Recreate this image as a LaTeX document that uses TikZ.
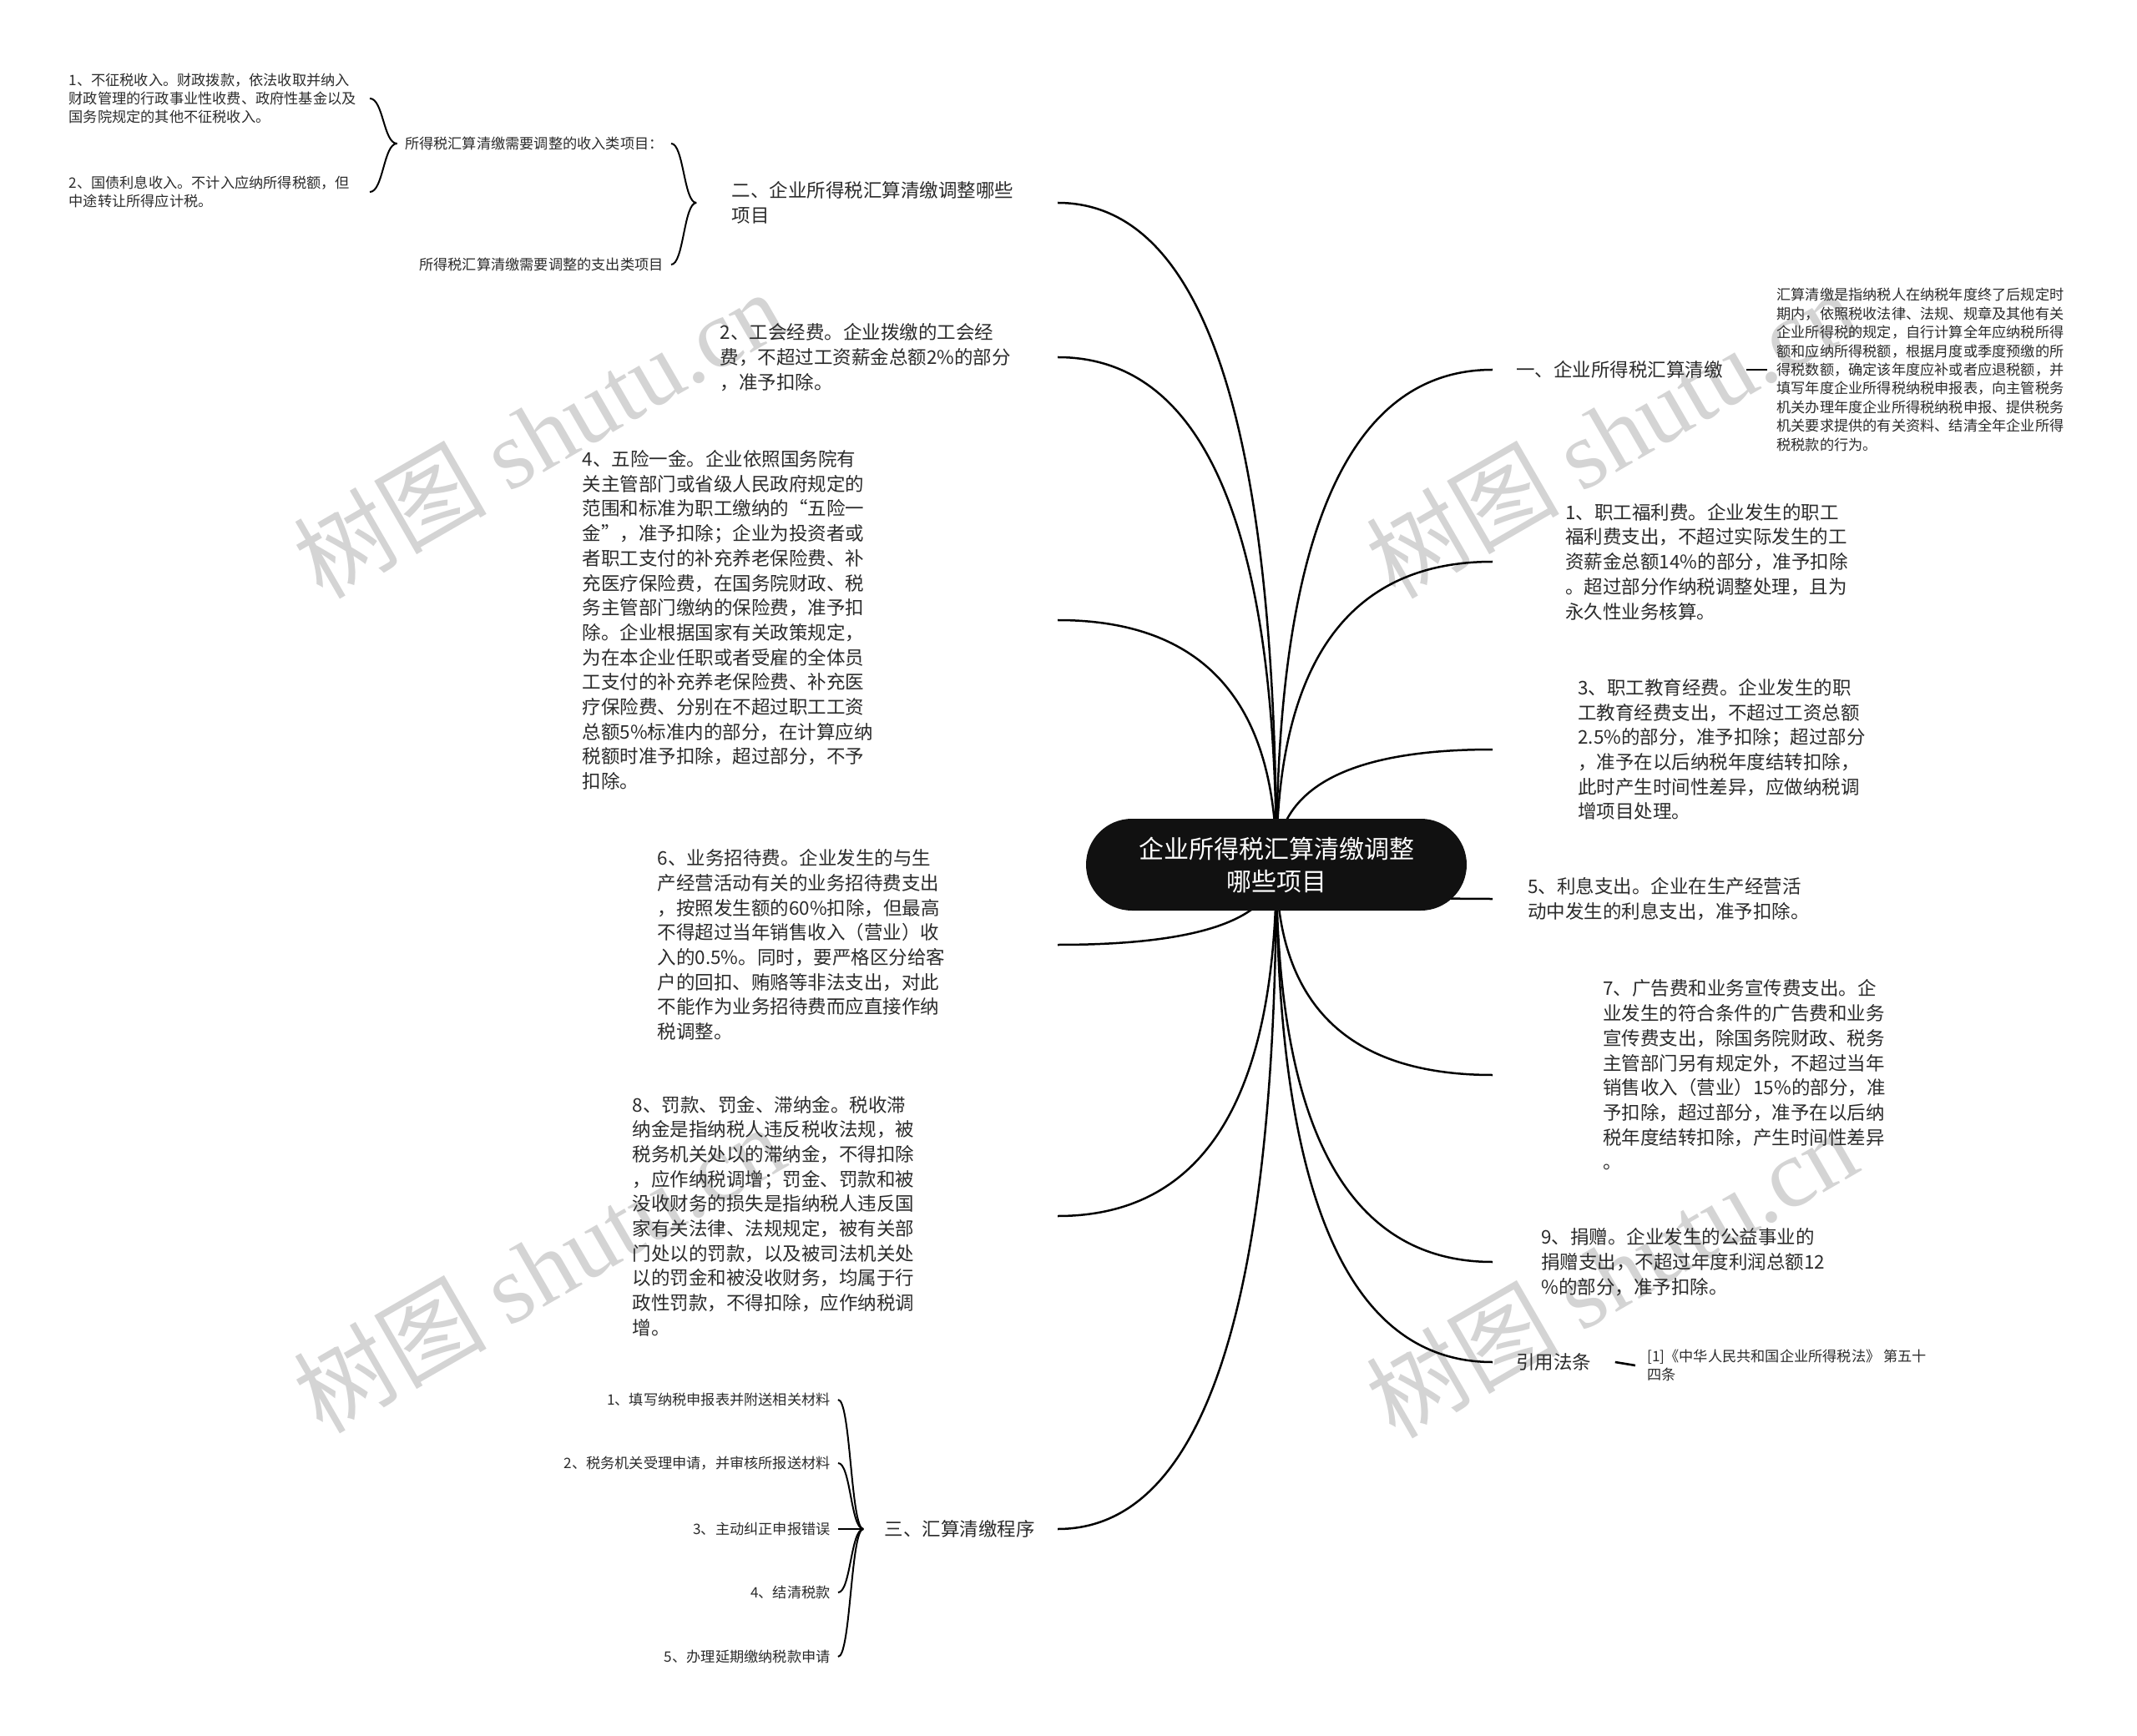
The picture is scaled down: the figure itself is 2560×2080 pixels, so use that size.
\documentclass[tikz,border=0pt]{standalone}
\usepackage{fontspec}
\setmainfont{Noto Sans CJK SC}
\newfontfamily\wmfont{Liberation Serif}
\usetikzlibrary{calc}
\pgfdeclarelayer{bg}
\pgfsetlayers{bg,main}
\definecolor{ink}{HTML}{2B2B2B}
\definecolor{wm}{HTML}{D4D4D4}
\definecolor{rootfill}{HTML}{111111}
\tikzset{
  maintext/.style={font=\fontsize{11.25}{14.85}\selectfont, text=ink, align=left, inner ysep=2pt},
  smalltext/.style={font=\fontsize{8.6}{11.2}\selectfont, text=ink, inner ysep=2pt},
  lnode/.style={maintext, anchor=east, inner xsep=0pt},
  rnode/.style={maintext, anchor=west},
  rootnode/.style={fill=rootfill, rounded corners=27.5pt, minimum width=228pt, minimum height=55pt,
    text=white, font=\fontsize{15}{19.5}\selectfont, align=center, inner sep=0pt},
  rootline/.style={line width=1.25pt, black},
  subline/.style={line width=1pt, black},
  straightline/.style={line width=1.3pt, black},
  wmark/.style={text=wm, rotate=30, font=\fontsize{58}{60}\selectfont, inner sep=0pt}
}
\newcommand\rlink[1]{\draw[rootline] (root.center) .. controls ($(root.center)!0.6667!(root.center|-#1)$) and ($(#1)!0.6667!(root.center|-#1)$) .. (#1);}
\newcommand\slink[2]{\draw[subline] (#1) .. controls ($(#1)!0.5!(#1-|#2)$) and ($(#2)!0.5!(#2-|#1)$) .. (#2);}
\begin{document}
\begin{tikzpicture}[x=0.5pt,y=-0.5pt]
\useasboundingbox (0,0) rectangle (2560,2080);

% root
\node[rootnode] (root) at (1529,1036) {企业所得税汇算清缴调整\\哪些项目};

% left branches
\node[lnode, text width=174pt, inner xsep=21pt] (L1) at (1267,243) {二、企业所得税汇算清缴调整哪些\\项目};
\node[lnode, text width=202pt] (L2) at (1267,428) {2、工会经费。企业拨缴的工会经\\费，不超过工资薪金总额2\%的部分\\，准予扣除。};
\node[lnode, text width=284.5pt] (L3) at (1267,743) {4、五险一金。企业依照国务院有\\关主管部门或省级人民政府规定的\\范围和标准为职工缴纳的“五险一\\金”，准予扣除；企业为投资者或\\者职工支付的补充养老保险费、补\\充医疗保险费，在国务院财政、税\\务主管部门缴纳的保险费，准予扣\\除。企业根据国家有关政策规定，\\为在本企业任职或者受雇的全体员\\工支付的补充养老保险费、补充医\\疗保险费、分别在不超过职工工资\\总额5\%标准内的部分，在计算应纳\\税额时准予扣除，超过部分，不予\\扣除。};
\node[lnode, text width=239.5pt] (L4) at (1267,1132) {6、业务招待费。企业发生的与生\\产经营活动有关的业务招待费支出\\，按照发生额的60\%扣除，但最高\\不得超过当年销售收入（营业）收\\入的0.5\%。同时，要严格区分给客\\户的回扣、贿赂等非法支出，对此\\不能作为业务招待费而应直接作纳\\税调整。};
\node[lnode, text width=254.5pt] (L5) at (1267,1457) {8、罚款、罚金、滞纳金。税收滞\\纳金是指纳税人违反税收法规，被\\税务机关处以的滞纳金，不得扣除\\，应作纳税调增；罚金、罚款和被\\没收财务的损失是指纳税人违反国\\家有关法律、法规规定，被有关部\\门处以的罚款，以及被司法机关处\\以的罚金和被没收财务，均属于行\\政性罚款，不得扣除，应作纳税调\\增。};
\node[lnode, text width=91pt, inner xsep=12.5pt] (L6) at (1267,1832) {三、汇算清缴程序};

% right branches
\node[rnode, inner xsep=14pt] (R1) at (1788,443) {一、企业所得税汇算清缴};
\node[rnode, inner xsep=43.5pt] (R2) at (1788,673) {1、职工福利费。企业发生的职工\\福利费支出，不超过实际发生的工\\资薪金总额14\%的部分，准予扣除\\。超过部分作纳税调整处理，且为\\永久性业务核算。};
\node[rnode, inner xsep=51pt] (R3) at (1788,898) {3、职工教育经费。企业发生的职\\工教育经费支出，不超过工资总额\\2.5\%的部分，准予扣除；超过部分\\，准予在以后纳税年度结转扣除，\\此时产生时间性差异，应做纳税调\\增项目处理。};
\node[rnode, inner xsep=21pt] (R4) at (1788,1077) {5、利息支出。企业在生产经营活\\动中发生的利息支出，准予扣除。};
\node[rnode, inner xsep=66pt] (R5) at (1788,1288) {7、广告费和业务宣传费支出。企\\业发生的符合条件的广告费和业务\\宣传费支出，除国务院财政、税务\\主管部门另有规定外，不超过当年\\销售收入（营业）15\%的部分，准\\予扣除，超过部分，准予在以后纳\\税年度结转扣除，产生时间性差异\\。};
\node[rnode, inner xsep=29pt] (R6) at (1788,1512) {9、捐赠。企业发生的公益事业的\\捐赠支出，不超过年度利润总额12\\\%的部分，准予扣除。};
\node[rnode, inner xsep=14pt] (R7) at (1788,1632) {引用法条};

% right leaves
\node[smalltext, anchor=west, align=left, inner xsep=5.5pt] (P1) at (2117,443) {汇算清缴是指纳税人在纳税年度终了后规定时\\期内，依照税收法律、法规、规章及其他有关\\企业所得税的规定，自行计算全年应纳税所得\\额和应纳所得税额，根据月度或季度预缴的所\\得税数额，确定该年度应补或者应退税额，并\\填写年度企业所得税纳税申报表，向主管税务\\机关办理年度企业所得税纳税申报、提供税务\\机关要求提供的有关资料、结清全年企业所得\\税税款的行为。};
\node[smalltext, anchor=west, align=left, inner xsep=7pt] (P2) at (1959,1636) {[1]《中华人民共和国企业所得税法》 第五十\\四条};

% left leaves of branch 二
\node[smalltext, anchor=east, align=right, inner xsep=4.5pt] (A1) at (804,172) {所得税汇算清缴需要调整的收入类项目：};
\node[smalltext, anchor=east, align=right, inner xsep=4.5pt] (A2) at (804,317) {所得税汇算清缴需要调整的支出类项目};
\node[smalltext, anchor=east, align=left, text width=174pt, inner xsep=6pt] (B1) at (443,118) {1、不征税收入。财政拨款，依法收取并纳入\\财政管理的行政事业性收费、政府性基金以及\\国务院规定的其他不征税收入。};
\node[smalltext, anchor=east, align=left, text width=174pt, inner xsep=6pt] (B2) at (443,230) {2、国债利息收入。不计入应纳所得税额，但\\中途转让所得应计税。};

% left leaves of branch 三
\node[smalltext, anchor=east, inner xsep=4.5pt] (C1) at (1004,1677) {1、填写纳税申报表并附送相关材料};
\node[smalltext, anchor=east, inner xsep=4.5pt] (C2) at (1004,1753) {2、税务机关受理申请，并审核所报送材料};
\node[smalltext, anchor=east, inner xsep=4.5pt] (C3) at (1004,1832) {3、主动纠正申报错误};
\node[smalltext, anchor=east, inner xsep=4.5pt] (C4) at (1004,1908) {4、结清税款};
\node[smalltext, anchor=east, inner xsep=4.5pt] (C5) at (1004,1985) {5、办理延期缴纳税款申请};

\begin{pgfonlayer}{bg}
  % watermarks
  \node[wmark] (W1) at (645,519) {树图 {\wmfont shutu.cn}};
  \node[wmark] (W2) at (1930,519) {树图 {\wmfont shutu.cn}};
  \node[wmark] (W3) at (645,1519) {树图 {\wmfont shutu.cn}};
  \node[wmark] (W4) at (1930,1525) {树图 {\wmfont shutu.cn}};
  % root connectors
  \rlink{L1.east}\rlink{L2.east}\rlink{L3.east}\rlink{L4.east}\rlink{L5.east}\rlink{L6.east}
  \rlink{R1.west}\rlink{R2.west}\rlink{R3.west}\rlink{R4.west}\rlink{R5.west}\rlink{R6.west}\rlink{R7.west}
  % sub connectors
  \slink{L1.west}{A1.east}\slink{L1.west}{A2.east}
  \slink{A1.west}{B1.east}\slink{A1.west}{B2.east}
  \slink{L6.west}{C1.east}\slink{L6.west}{C2.east}\slink{L6.west}{C3.east}\slink{L6.west}{C4.east}\slink{L6.west}{C5.east}
  \draw[straightline] (R1.east) -- (P1.west);
  \draw[straightline] (R7.east) -- (P2.west);
\end{pgfonlayer}
\end{tikzpicture}
\end{document}
